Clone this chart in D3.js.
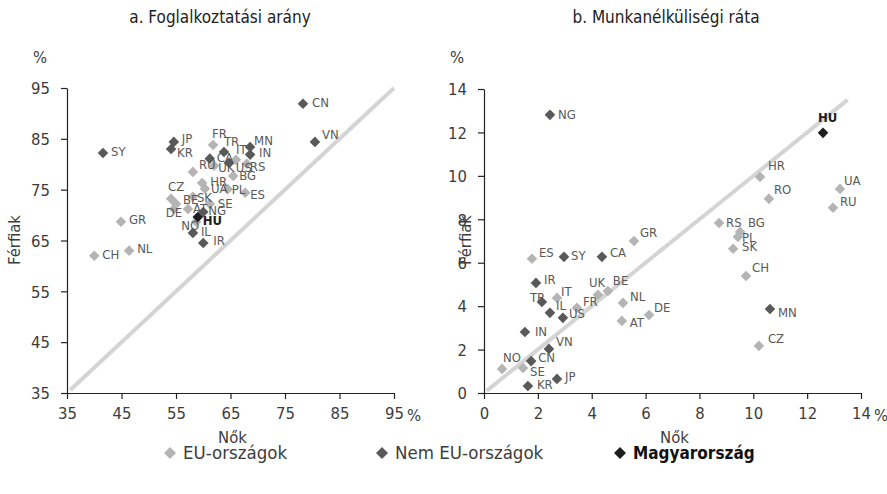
<!DOCTYPE html>
<html><head><meta charset="utf-8">
<script src="https://cdn.jsdelivr.net/npm/d3@7"></script>
<style>
body{margin:0;background:#fff;}
svg text{font-family:"DejaVu Sans Condensed","DejaVu Sans","Liberation Sans Narrow",sans-serif;font-stretch:condensed;}
</style></head>
<body><svg id="c" width="887" height="494"></svg>
<script>
// ---------- DATA ----------
const nonEU = ["SY","JP","KR","CN","VN","TR","CA","MN","IN","IL","IR","US","NG"];
const hungary = "HU";

// a. Employment rate (women, men), %
const empCountries = ["SY","GR","CH","NL","CN","VN","JP","KR","FR","TR","MN","IN","CA","IT","UK","US","RS","RU","BG","HR","PL","ES","UA","CZ","BE","SK","DE","AT","NG","SE","NO","IL","IR","HU"];
const empWomen = [41.6,44.9,40.0,46.4,78.3,80.5,54.6,54.1,61.8,63.8,68.6,68.6,61.2,66.0,62.0,64.7,68.0,58.1,65.5,59.8,64.5,67.7,60.3,54.1,55.0,58.1,54.6,57.2,60.0,61.2,58.7,58.1,60.0,59.0];
const empMen   = [82.2,68.7,62.0,63.0,91.9,84.4,84.4,83.0,83.8,82.4,83.4,81.9,81.1,80.9,79.7,80.3,80.1,78.5,77.7,76.3,75.1,74.4,75.2,73.2,72.2,73.6,71.2,71.2,70.6,72.2,68.7,66.5,64.5,69.6];

// b. Unemployment rate (women, men), %
const unCountries = ["NG","HR","RO","UA","RU","RS","BG","PL","SK","CH","MN","CZ","GR","ES","SY","CA","IR","IT","TR","IL","US","UK","BE","FR","NL","AT","DE","IN","VN","CN","NO","SE","JP","KR","HU"];
const unWomen = [2.45,10.25,10.58,13.22,12.96,8.73,9.51,9.43,9.25,9.73,10.62,10.21,5.57,1.78,2.97,4.38,1.93,2.71,2.15,2.45,2.93,4.23,4.60,3.45,5.16,5.12,6.13,1.52,2.41,1.75,0.67,1.45,2.71,1.63,12.59];
const unMen   = [12.81,9.95,8.94,9.40,8.53,7.83,7.42,7.19,6.64,5.39,3.87,2.17,7.00,6.18,6.27,6.27,5.07,4.38,4.19,3.69,3.46,4.52,4.70,3.92,4.15,3.32,3.59,2.81,2.03,1.47,1.11,1.15,0.65,0.32,11.98];

const empTicks = [35,45,55,65,75,85,95];
const unTicks = [0,2,4,6,8,10,12,14];
const titles = ["a. Foglalkoztatási arány","b. Munkanélküliségi ráta"];
const yTitle = "Férfiak", xTitle = "Nők";
const legendItems = ["EU-országok","Nem EU-országok","Magyarország"];

// ---------- LAYOUT (label offsets, px) ----------
const empLabelOff = {SY:[8,-2],GR:[8,-2],CH:[8,-1],NL:[8,-2],CN:[9,-1],VN:[7,-7],JP:[8,-3],KR:[6,3],FR:[-1,-11],TR:[0,-11],MN:[4,-7],IN:[9,-2],CA:[7,-1],IT:[0,-10],UK:[4,2],US:[7,5],RS:[3,3],RU:[6,-7],BG:[6,0],HR:[8,-2],PL:[4,0],ES:[5,2],UA:[6,0],CZ:[-3,-12],BE:[7,-4],SK:[4,1],DE:[-8,3],AT:[5,-1],NG:[5,-2],SE:[8,0],HU:[5,3],NO:[-15,4],IL:[8,-1],IR:[10,-3]};
const unLabelOff = {NG:[8,0],HU:[-5,-15],HR:[8,-11],RO:[5,-9],UA:[4,-8],RU:[7,-6],RS:[7,-1],BG:[8,-9],PL:[4,1],SK:[9,-2],CH:[6,-9],MN:[8,3],CZ:[9,-7],GR:[6,-9],ES:[7,-6],SY:[7,-1],CA:[8,-4],IR:[8,-3],IT:[4,-6],TR:[-12,-5],IL:[6,-7],US:[6,-4],UK:[-9,-12],BE:[5,-10],FR:[6,-6],NL:[7,-6],AT:[8,2],DE:[5,-8],IN:[10,-1],VN:[7,-7],CN:[7,-4],NO:[1,-11],SE:[7,3],JP:[8,-2],KR:[9,-2]};

const colEU = "#b4b4b4", colNon = "#595959", colHU = "#1e1e1e";
const textCol = "#3c3c3c", lblCol = "#595959", diagCol = "#d4d4d4";

const svg = d3.select("#c");
const diamond = r => `M0,${-r}L${r},0L0,${r}L${-r},0Z`;
const colorOf = c => c === hungary ? colHU : (nonEU.includes(c) ? colNon : colEU);

function panel(cfg){
  const x = d3.scaleLinear().domain(cfg.dom).range(cfg.xr);
  const y = d3.scaleLinear().domain(cfg.dom).range(cfg.yr);
  const g = svg.append("g");

  g.append("text").attr("x",cfg.titleX).attr("y",23).attr("text-anchor","middle")
    .attr("font-size",17).attr("fill","#222").text(cfg.title);

  g.append("line").attr("x1",x(cfg.diag[0])).attr("y1",y(cfg.diag[0]))
    .attr("x2",x(cfg.diag[1])).attr("y2",y(cfg.diag[1]))
    .attr("stroke",diagCol).attr("stroke-width",4);

  const xa = g.append("g").attr("transform",`translate(0,${cfg.yr[0]})`)
    .call(d3.axisBottom(x).tickValues(cfg.ticks).tickSize(6).tickPadding(8).tickSizeOuter(0));
  const ya = g.append("g").attr("transform",`translate(${cfg.xr[0]},0)`)
    .call(d3.axisLeft(y).tickValues(cfg.ticks).tickSize(6).tickPadding(11).tickSizeOuter(0));
  [xa,ya].forEach(a=>{
    a.selectAll("path,line").attr("stroke","#222").attr("stroke-width",1.2);
    a.selectAll("text").attr("font-size",16.5).attr("fill",textCol)
      .style("font-family",'"DejaVu Sans Condensed","DejaVu Sans",sans-serif').style("font-stretch","condensed");
  });
  ya.selectAll(".tick text").attr("dy","0.35em");
  g.append("text").attr("x",x(cfg.dom[1])+13).attr("y",cfg.yr[0]+28)
    .attr("font-size",16.5).attr("fill",textCol).text("%");
  g.append("text").attr("x",cfg.pctX).attr("y",63).attr("text-anchor","middle")
    .attr("font-size",16.5).attr("fill",textCol).text("%");

  g.append("text").attr("transform",`translate(${cfg.yTitleX},240) rotate(-90)`)
    .attr("text-anchor","middle").attr("font-size",16.5).attr("fill",textCol).text(yTitle);
  g.append("text").attr("x",(cfg.xr[0]+cfg.xr[1])/2+2).attr("y",443).attr("text-anchor","middle")
    .attr("font-size",16.5).attr("fill",textCol).text(xTitle);

  const pts = cfg.codes.map((c,i)=>({c, xv:cfg.xs[i], yv:cfg.ys[i]}));
  const order = pts.slice().sort((a,b)=>(a.c===hungary)-(b.c===hungary));
  g.selectAll("path.pt").data(order).join("path").attr("class","pt")
    .attr("d",diamond(5.3))
    .attr("transform",d=>`translate(${x(d.xv)},${y(d.yv)})`)
    .attr("fill",d=>colorOf(d.c));
  g.selectAll("text.lb").data(pts).join("text").attr("class","lb")
    .attr("x",d=>x(d.xv)+(cfg.off[d.c]||[8,0])[0])
    .attr("y",d=>y(d.yv)+(cfg.off[d.c]||[8,0])[1])
    .attr("dy","0.35em")
    .attr("font-size",13)
    .attr("font-weight",d=>d.c===hungary?"bold":"normal")
    .attr("fill",d=>d.c===hungary?colHU:lblCol)
    .text(d=>d.c);
}

panel({title:titles[0],titleX:220,dom:[35,95],xr:[67,394],yr:[393,88],ticks:empTicks,diag:[35.6,95],
  codes:empCountries,xs:empWomen,ys:empMen,off:empLabelOff,pctX:40,yTitleX:20});
panel({title:titles[1],titleX:666,dom:[0,14],xr:[484,861],yr:[393,89],ticks:unTicks,diag:[0.1,13.5],
  codes:unCountries,xs:unWomen,ys:unMen,off:unLabelOff,pctX:457,yTitleX:471});

const lg = svg.append("g");
const lx = [170,382,620];
const lc = [colEU,colNon,colHU];
legendItems.forEach((t,i)=>{
  lg.append("path").attr("d",diamond(6)).attr("transform",`translate(${lx[i]},${453})`).attr("fill",lc[i]);
  lg.append("text").attr("x",lx[i]+13).attr("y",453).attr("dy","0.35em")
    .attr("font-size",i===2?17:18.5).attr("fill",i===2?"#111":textCol)
    .attr("font-weight",i===2?"bold":"normal").text(t);
});
</script></body></html>
